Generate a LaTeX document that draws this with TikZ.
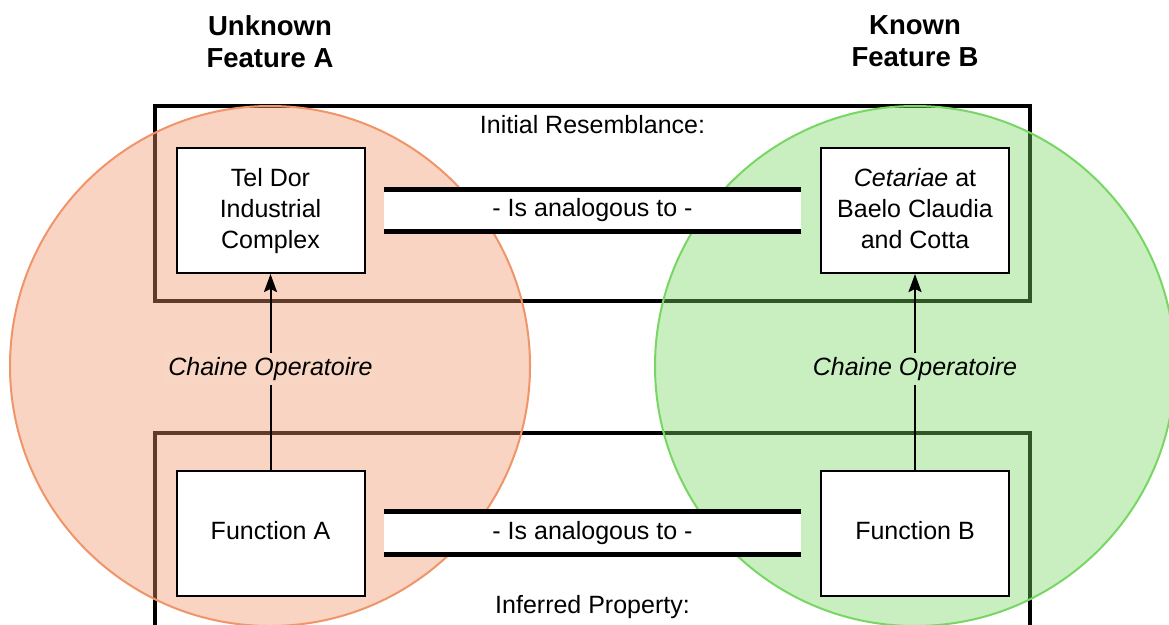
\documentclass[tikz,border=0pt]{standalone}
\usepackage{fontspec}
\setmainfont{Liberation Sans}
\usetikzlibrary{arrows.meta}
\definecolor{orangeline}{RGB}{240,149,106}
\definecolor{greenline}{RGB}{120,215,100}
\definecolor{orangemix}{RGB}{249,213,195}
\definecolor{greenmix}{RGB}{201,239,193}
\tikzset{
 txt/.style={font=\fontsize{25}{31}\selectfont, align=center, inner sep=0pt},
 title/.style={font=\fontsize{27.5}{32}\selectfont\bfseries, align=center, inner sep=0pt},
 itembox/.style={txt, draw=black, line width=2pt, fill=white, minimum width=188pt, minimum height=125pt, text depth=5pt},
 frame/.style={draw=black, line width=3.2pt},
 venn/.style={circle, minimum size=520pt, line width=2pt, inner sep=0pt},
 barbox/.style={txt, fill=white, minimum width=417pt, minimum height=42pt},
 barline/.style={line width=5pt},
 flow/.style={line width=2pt, -{Stealth[length=18pt,width=13pt,inset=3pt]}},
 oplabel/.style={font=\fontsize{25}{31}\selectfont\itshape, inner sep=4pt}
}
\begin{document}
\begin{tikzpicture}[x=1pt,y=-1pt]
\path[use as bounding box] (0,0) rectangle (1169,624);
\clip (0,0) rectangle (1169,624);
\fill[white] (0,0) rectangle (1169,624);
% frames
\draw[frame] (155,106) rectangle (1030,301);
\draw[frame] (155,433) rectangle (1030,660);
% circles
\node[venn, draw=orangeline, fill=orangeline, fill opacity=0.4] (cA) at (270,366) {};
\node[venn, draw=greenline, fill=greenline, fill opacity=0.4] (cB) at (915,366) {};
% titles
\node[title] (tA) at (270,41.5) {Unknown\\Feature A};
\node[title] (tB) at (915,41.5) {Known\\Feature B};
% frame labels
\node[txt, anchor=base] (initial) at (592.5,133.3) {Initial Resemblance:};
\node[txt, anchor=base] (inferred) at (592.5,613) {Inferred Property:};
% boxes
\node[itembox] (tel) at (270.5,210.5) {Tel Dor\\Industrial\\Complex};
\node[itembox] (cet) at (915,210.5) {\textit{Cetariae} at\\Baelo Claudia\\and Cotta};
\node[itembox] (fA) at (270.5,533) {Function A};
\node[itembox] (fB) at (915,533) {Function B};
% analogy bars
\node[barbox] (bar1) at (592.5,210.5) {- Is analogous to -};
\draw[barline] (bar1.north west) -- (bar1.north east);
\draw[barline] (bar1.south west) -- (bar1.south east);
\node[barbox] (bar2) at (592.5,533) {- Is analogous to -};
\draw[barline] (bar2.north west) -- (bar2.north east);
\draw[barline] (bar2.south west) -- (bar2.south east);
% arrows
\draw[flow] (fA) -- (tel);
\draw[flow] (fB) -- (cet);
\node[oplabel, fill=orangemix] (opA) at (270.5,369) {Chaine Operatoire};
\node[oplabel, fill=greenmix] (opB) at (915,369) {Chaine Operatoire};
\end{tikzpicture}
\end{document}
